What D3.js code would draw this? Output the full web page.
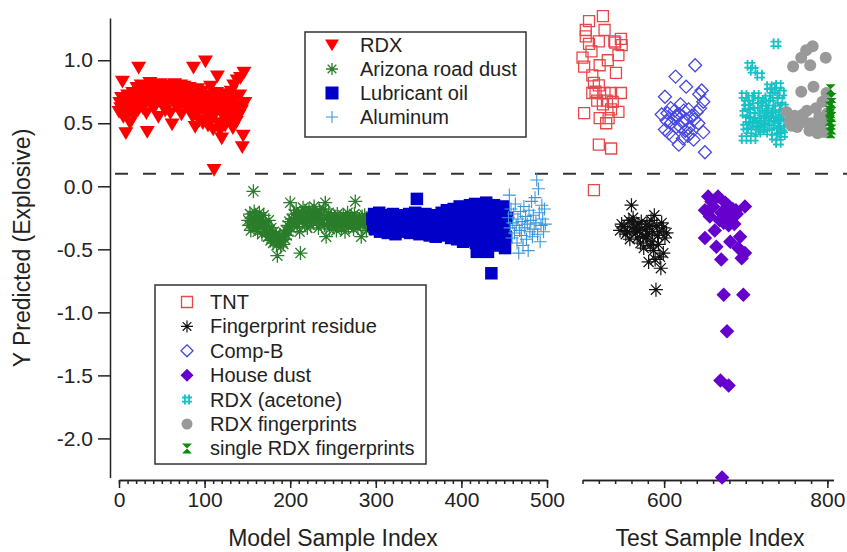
<!DOCTYPE html>
<meta charset="utf-8">
<script src="https://d3js.org/d3.v7.min.js"></script>
<style>
  body { margin: 0; background: #fff; }
  text { font-family: Arial, "Liberation Sans", sans-serif; fill: #222; }
</style>
<div id="chart"></div>
<script>
// ---- model samples: sequential index starting at *Start, predicted Y values ----
var rdxStart = 0;
var rdxY = [
  0.59, 0.66, 0.62, 0.70, 0.83, 0.55, 0.68, 0.64, 0.42, 0.60,
  0.72, 0.58, 0.65, 0.50, 0.69, 0.62, 0.74, 0.56, 0.67, 0.71,
  0.63, 0.78, 0.60, 0.94, 0.75, 0.66, 0.80, 0.70, 0.62, 0.77,
  0.68, 0.73, 0.58, 0.43, 0.79, 0.71, 0.82, 0.65, 0.76, 0.69,
  0.74, 0.62, 0.80, 0.71, 0.67, 0.78, 0.55, 0.73, 0.81, 0.68,
  0.76, 0.64, 0.72, 0.79, 0.60, 0.70, 0.77, 0.66, 0.74, 0.80,
  0.58, 0.71, 0.49, 0.75, 0.68, 0.81, 0.64, 0.72, 0.78, 0.62,
  0.74, 0.69, 0.80, 0.57, 0.73, 0.66, 0.79, 0.70, 0.63, 0.76,
  0.71, 0.65, 0.78, 0.60, 0.73, 0.68, 0.55, 0.94, 0.64, 0.47,
  0.72, 0.58, 0.77, 0.66, 0.52, 0.70, 0.61, 0.75, 0.50, 0.68,
  0.63, 0.99, 0.57, 0.72, 0.48, 0.66, 0.60, 0.79, 0.53, 0.70,
  0.45, 0.13, 0.64, 0.58, 0.74, 0.87, 0.50, 0.68, 0.44, 0.62,
  0.38, 0.71, 0.55, 0.65, 0.48, 0.73, 0.60, 0.52, 0.67, 0.57,
  0.53, 0.75, 0.62, 0.46, 0.80, 0.58, 0.69, 0.51, 0.84, 0.63,
  0.56, 0.72, 0.86, 0.60, 0.31, 0.40, 0.90, 0.66
];

var dustStart = 151;
var dustY = [
  -0.27, -0.31, -0.22, -0.35, -0.25, -0.30, -0.04, -0.20, -0.33, -0.28,
  -0.24, -0.36, -0.29, -0.21, -0.32, -0.26, -0.38, -0.30, -0.23, -0.34,
  -0.29, -0.37, -0.31, -0.40, -0.27, -0.35, -0.43, -0.33, -0.39, -0.45,
  -0.36, -0.42, -0.38, -0.47, -0.55, -0.41, -0.44, -0.39, -0.48, -0.43,
  -0.40, -0.46, -0.37, -0.42, -0.35, -0.39, -0.31, -0.36, -0.28, -0.13,
  -0.33, -0.26, -0.30, -0.22, -0.29, -0.25, -0.19, -0.32, -0.27, -0.23,
  -0.36, -0.53, -0.21, -0.28, -0.17, -0.24, -0.30, -0.20, -0.26, -0.33,
  -0.22, -0.18, -0.27, -0.31, -0.24, -0.20, -0.29, -0.16, -0.25, -0.21,
  -0.28, -0.23, -0.33, -0.19, -0.26, -0.30, -0.22, -0.27, -0.18, -0.31,
  -0.13, -0.40, -0.25, -0.29, -0.21, -0.34, -0.26, -0.23, -0.30, -0.27,
  -0.32, -0.24, -0.28, -0.35, -0.22, -0.29, -0.26, -0.31, -0.25, -0.33,
  -0.27, -0.23, -0.30, -0.36, -0.25, -0.28, -0.21, -0.32, -0.26, -0.29,
  -0.24, -0.31, -0.27, -0.34, -0.22, -0.12, -0.29, -0.25, -0.33, -0.28,
  -0.26, -0.30, -0.40, -0.24, -0.31, -0.27, -0.23, -0.29, -0.35, -0.26,
  -0.30, -0.25, -0.28, -0.32, -0.27
];

var oilStart = 296;
var oilY = [
  -0.26, -0.31, -0.22, -0.34, -0.28, -0.24, -0.33, -0.29, -0.21, -0.36,
  -0.27, -0.31, -0.25, -0.35, -0.29, -0.23, -0.32, -0.27, -0.37, -0.26,
  -0.30, -0.24, -0.34, -0.28, -0.22, -0.33, -0.29, -0.38, -0.25, -0.31,
  -0.27, -0.35, -0.23, -0.30, -0.26, -0.36, -0.28, -0.24, -0.32, -0.29,
  -0.34, -0.25, -0.30, -0.22, -0.37, -0.27, -0.31, -0.24, -0.33, -0.28,
  -0.21, -0.35, -0.10, -0.29, -0.26, -0.38, -0.23, -0.31, -0.27, -0.34,
  -0.25, -0.30, -0.22, -0.36, -0.28, -0.33, -0.24, -0.39, -0.27, -0.31,
  -0.23, -0.35, -0.29, -0.26, -0.40, -0.24, -0.32, -0.28, -0.37, -0.25,
  -0.30, -0.21, -0.34, -0.27, -0.39, -0.24, -0.31, -0.19, -0.36, -0.28,
  -0.33, -0.22, -0.41, -0.26, -0.30, -0.18, -0.37, -0.29, -0.24, -0.42,
  -0.27, -0.33, -0.16, -0.39, -0.25, -0.31, -0.44, -0.22, -0.35, -0.28,
  -0.19, -0.40, -0.26, -0.34, -0.15, -0.43, -0.29, -0.23, -0.37, -0.31,
  -0.14, -0.45, -0.52, -0.27, -0.36, -0.20, -0.41, -0.30, -0.17, -0.46,
  -0.33, -0.24, -0.39, -0.13, -0.29, -0.52, -0.44, -0.21, -0.35, -0.69,
  -0.26, -0.47, -0.15, -0.38, -0.30, -0.42, -0.19, -0.34, -0.45, -0.23,
  -0.37, -0.28, -0.43, -0.16, -0.33, -0.49, -0.40, -0.25
];

var alStart = 455;
var alY = [
  -0.25, -0.07, -0.33, -0.18, -0.41, -0.29, -0.22, -0.37, -0.14, -0.31,
  -0.45, -0.26, -0.53, -0.35, -0.20, -0.39, -0.28, -0.47, -0.16, -0.33,
  -0.24, -0.42, -0.30, -0.51, -0.19, -0.36, -0.27, -0.12, -0.40, -0.23,
  -0.34, -0.09, -0.29, 0.05, -0.38, -0.02, -0.21, -0.44, -0.31, -0.15,
  -0.26, -0.36, -0.18, -0.30
];

// ---- test samples: [index, predicted Y] ----
var tnt = [[525,1.35],[508,1.31],[504,1.24],[527,1.24],[504,1.19],[508,1.13],[520,1.15],[539,1.15],
  [547,1.17],[548,1.12],[540,1.14],[511,1.07],[544,1.04],[500,1.02],[531,1.00],[502,0.95],[521,0.96],
  [541,0.90],[512,0.88],[514,0.82],[520,0.80],[516,0.75],[512,0.74],[527,0.74],[535,0.74],[547,0.74],
  [518,0.68],[530,0.68],[537,0.67],[525,0.65],[535,0.61],[544,0.59],[502,0.58],[521,0.54],[532,0.54],
  [529,0.50],[520,0.33],[535,0.30],[514,-0.03]];

var fingerprint = [[560,-0.15],[588,-0.23],[551,-0.32],[561,-0.29],[570,-0.35],[555,-0.36],[582,-0.32],
  [599,-0.33],[592,-0.39],[578,-0.41],[567,-0.41],[546,-0.35],[601,-0.41],[575,-0.49],[587,-0.51],
  [599,-0.53],[581,-0.60],[589,-0.58],[596,-0.65],[590,-0.82],[548,-0.30],[553,-0.38],[557,-0.27],
  [563,-0.33],[565,-0.37],[568,-0.30],[572,-0.28],[574,-0.40],[577,-0.34],[580,-0.38],[584,-0.27],
  [585,-0.44],[591,-0.31],[594,-0.36],[597,-0.29],[603,-0.37],[558,-0.42],[571,-0.45],[583,-0.47],
  [593,-0.46],[586,-0.36],[579,-0.30],[566,-0.33],[595,-0.56],[562,-0.25]];

var compB = [[638,0.96],[614,0.87],[627,0.79],[646,0.76],[601,0.71],[643,0.73],[648,0.67],[620,0.65],
  [608,0.62],[630,0.61],[640,0.59],[597,0.57],[616,0.56],[627,0.53],[637,0.53],[608,0.50],[620,0.47],
  [601,0.45],[630,0.46],[648,0.43],[611,0.39],[623,0.38],[618,0.33],[632,0.42],[650,0.27],[604,0.58],
  [612,0.54],[624,0.60],[634,0.56],[642,0.50],[606,0.42],[615,0.47],[626,0.44],[636,0.37],[613,0.60],
  [622,0.51],[629,0.40],[644,0.62],[603,0.52],[619,0.57]];

var houseDust = [[654,-0.08],[666,-0.08],[650,-0.19],[660,-0.16],[678,-0.15],[699,-0.16],[688,-0.19],
  [670,-0.21],[656,-0.24],[681,-0.24],[689,-0.22],[673,-0.29],[679,-0.31],[662,-0.35],[650,-0.41],
  [681,-0.44],[693,-0.40],[664,-0.48],[691,-0.49],[699,-0.53],[695,-0.57],[670,-0.58],[673,-0.86],
  [697,-0.86],[677,-1.15],[669,-1.54],[679,-1.58],[671,-2.31],[658,-0.12],[684,-0.18],[668,-0.27],
  [675,-0.13],[686,-0.30]];

var rdxAcetone = [[737,1.13],[705,0.96],[709,0.92],[717,0.88],[729,0.79],[740,0.80],[733,0.76],[744,0.74],
  [698,0.72],[701,0.66],[706,0.70],[712,0.64],[718,0.68],[723,0.62],[727,0.70],[731,0.66],[736,0.72],
  [742,0.68],[746,0.63],[699,0.58],[703,0.53],[708,0.60],[714,0.56],[716,0.50],[720,0.58],[725,0.54],
  [730,0.60],[734,0.57],[739,0.62],[743,0.55],[747,0.58],[700,0.47],[704,0.44],[711,0.49],[715,0.43],
  [721,0.52],[726,0.47],[732,0.50],[738,0.48],[741,0.44],[745,0.50],[698,0.38],[709,0.38],[729,0.43],
  [745,0.41],[740,0.35],[735,0.39],[702,0.63],[713,0.72],[722,0.66],[728,0.56],[737,0.53],[744,0.46],
  [719,0.45],[707,0.52]];

var rdxPrints = [[782,1.11],[774,1.08],[768,1.02],[758,0.95],[779,0.96],[798,1.02],[768,0.75],[783,0.79],
  [799,0.74],[750,0.59],[754,0.51],[770,0.57],[786,0.62],[794,0.67],[788,0.42],[796,0.43],[780,0.50],
  [763,0.47],[795,0.52],[760,0.56],[775,0.60],[790,0.55],[766,0.53],[784,0.46],[800,0.58],[778,0.44],
  [756,0.48],[792,0.49],[772,0.51]];

var singlePrints = [[804,0.77],[805,0.70],[803,0.63],[804,0.58],[805,0.55],[803,0.52],[804,0.49],
  [805,0.45],[804,0.42],[803,0.60],[805,0.66]];

var yTicks = [-2.0, -1.5, -1.0, -0.5, 0.0, 0.5, 1.0];
var modelTicks = [0, 100, 200, 300, 400, 500];
var testTicks = [600, 800];
var threshold = 0.1;

// ---- layout ----
var W = 847, H = 552;
var svg = d3.select("#chart").append("svg").attr("width", W).attr("height", H);

var y = d3.scaleLinear().domain([-2.31, 1.335]).range([477.5, 18]);
var xModel = d3.scaleLinear().domain([0, 500]).range([119, 547]);
var xTest = d3.scaleLinear().domain([500, 807.5]).range([582.5, 833.5]);

// custom marker shapes for d3.symbol, size = width^2
function shape(fn) { return { draw: function(c, size) { fn(c, Math.sqrt(size) / 2); } }; }
var symTri = shape(function(c, s) { c.moveTo(-s, -s * 0.8); c.lineTo(s, -s * 0.8); c.lineTo(0, s * 0.9); c.closePath(); });
var symStar = shape(function(c, s) {
  var a = s * 0.72;
  c.moveTo(-s, 0); c.lineTo(s, 0); c.moveTo(0, -s); c.lineTo(0, s);
  c.moveTo(-a, -a); c.lineTo(a, a); c.moveTo(-a, a); c.lineTo(a, -a);
});
var symSquare = shape(function(c, s) { c.moveTo(-s, -s); c.lineTo(s, -s); c.lineTo(s, s); c.lineTo(-s, s); c.closePath(); });
var symPlus = shape(function(c, s) { c.moveTo(-s, 0); c.lineTo(s, 0); c.moveTo(0, -s); c.lineTo(0, s); });
var symDiamond = shape(function(c, s) { c.moveTo(0, -s); c.lineTo(s, 0); c.lineTo(0, s); c.lineTo(-s, 0); c.closePath(); });
var symHash = shape(function(c, s) {
  var a = s * 0.42;
  c.moveTo(-a, -s); c.lineTo(-a, s); c.moveTo(a, -s); c.lineTo(a, s);
  c.moveTo(-s, -a); c.lineTo(s, -a); c.moveTo(-s, a); c.lineTo(s, a);
});
var symCircle = shape(function(c, s) { c.moveTo(s, 0); c.arc(0, 0, s, 0, 2 * Math.PI); });
var symHourglass = shape(function(c, s) { c.moveTo(-s, -s); c.lineTo(s, -s); c.lineTo(-s, s); c.lineTo(s, s); c.closePath(); });

function seq(start, vals) { return vals.map(function(v, i) { return [start + i, v]; }); }

var modelSeries = [
  { name: "RDX", data: seq(rdxStart, rdxY), type: symTri, w: 15, color: "#ff0000", fill: true, lw: 14 },
  { name: "Arizona road dust", data: seq(dustStart, dustY), type: symStar, w: 14, color: "#2a7d2a", fill: false, sw: 1.3, lw: 12 },
  { name: "Lubricant oil", data: seq(oilStart, oilY), type: symSquare, w: 12.5, color: "#0000c8", fill: true, lw: 13 },
  { name: "Aluminum", data: seq(alStart, alY), type: symPlus, w: 13, color: "#3a96dc", fill: false, sw: 1.1, lw: 12 }
];
var testSeries = [
  { name: "TNT", data: tnt, type: symSquare, w: 11, color: "#e8474a", fill: false, sw: 1.3, lw: 11 },
  { name: "Fingerprint residue", data: fingerprint, type: symStar, w: 14, color: "#111", fill: false, sw: 1.2, lw: 12 },
  { name: "Comp-B", data: compB, type: symDiamond, w: 13, color: "#4848e0", fill: false, sw: 1.3, lw: 12 },
  { name: "House dust", data: houseDust, type: symDiamond, w: 14.5, color: "#6600cc", fill: true, lw: 13 },
  { name: "RDX (acetone)", data: rdxAcetone, type: symHash, w: 11, color: "#15c2c6", fill: false, sw: 1.8, lw: 10 },
  { name: "RDX fingerprints", data: rdxPrints, type: symCircle, w: 12, color: "#999999", fill: true, lw: 11 },
  { name: "single RDX fingerprints", data: singlePrints, type: symHourglass, w: 10, color: "#0a8c0a", fill: true, lw: 10 }
];

function styleMark(sel, s) {
  sel.attr("fill", s.fill ? s.color : "none")
    .attr("stroke", s.fill ? "none" : s.color)
    .attr("stroke-width", s.sw || 0);
}

function drawSeries(list, x) {
  list.forEach(function(s) {
    svg.append("g").selectAll("path")
      .data(s.data)
      .enter().append("path")
        .attr("transform", function(d) { return "translate(" + x(d[0]) + "," + y(d[1]) + ")"; })
        .attr("d", d3.symbol().type(s.type).size(s.w * s.w))
        .call(styleMark, s);
  });
}

// ---- axes ----
function styleAxis(g) {
  g.selectAll(".domain, line").attr("stroke", "#222").attr("stroke-width", 1.5);
  g.selectAll("text").attr("font-size", "21px").attr("fill", "#222");
}

svg.append("g")
  .attr("transform", "translate(110,0)")
  .call(d3.axisLeft(y).tickValues(yTicks).tickSize(12).tickSizeOuter(0).tickPadding(5)
    .tickFormat(function(d) { return d.toFixed(1); }))
  .call(styleAxis);

svg.append("g")
  .attr("transform", "translate(0,480)")
  .call(d3.axisBottom(xModel).tickValues(d3.range(0, 501, 10)).tickSize(4).tickSizeOuter(0).tickFormat(""))
  .call(styleAxis);
svg.append("g")
  .attr("transform", "translate(0,480)")
  .call(d3.axisBottom(xModel).tickValues(modelTicks).tickSize(8).tickSizeOuter(0).tickPadding(4))
  .call(styleAxis);

svg.append("g")
  .attr("transform", "translate(0,480)")
  .call(d3.axisBottom(xTest).tickValues(d3.range(500, 801, 20)).tickSize(4).tickSizeOuter(0).tickFormat(""))
  .call(styleAxis);
svg.append("g")
  .attr("transform", "translate(0,480)")
  .call(d3.axisBottom(xTest).tickValues(testTicks).tickSize(8).tickSizeOuter(0).tickPadding(4))
  .call(styleAxis);

// axis titles
svg.append("text")
  .attr("transform", "translate(30," + 248 + ") rotate(-90)")
  .attr("text-anchor", "middle")
  .attr("font-size", "23px")
  .text("Y Predicted (Explosive)");
svg.append("text")
  .attr("x", 333).attr("y", 546)
  .attr("text-anchor", "middle").attr("font-size", "23px")
  .text("Model Sample Index");
svg.append("text")
  .attr("x", 710).attr("y", 546)
  .attr("text-anchor", "middle").attr("font-size", "23px")
  .text("Test Sample Index");

// threshold line
svg.append("line")
  .attr("x1", 115).attr("x2", W)
  .attr("y1", y(threshold)).attr("y2", y(threshold))
  .attr("stroke", "#333").attr("stroke-width", 2)
  .attr("stroke-dasharray", "13,15");

// ---- markers ----
drawSeries(modelSeries, xModel);
drawSeries(testSeries, xTest);

// ---- legends ----
function legend(list, box, symX, textX, y0, step) {
  var g = svg.append("g");
  g.append("rect")
    .attr("x", box[0]).attr("y", box[1]).attr("width", box[2]).attr("height", box[3])
    .attr("fill", "#fff").attr("stroke", "#333").attr("stroke-width", 1.5);
  list.forEach(function(s, i) {
    var cy = y0 + i * step;
    g.append("path")
      .attr("transform", "translate(" + symX + "," + cy + ")")
      .attr("d", d3.symbol().type(s.type).size(s.lw * s.lw))
      .call(styleMark, s);
    g.append("text")
      .attr("x", textX).attr("y", cy)
      .attr("dominant-baseline", "central")
      .attr("font-size", "20px")
      .text(s.name);
  });
}
legend(modelSeries, [305, 32, 221, 105], 332, 360, 45, 24);
legend(testSeries, [155, 285, 271, 179], 187, 210, 302, 24.4);
</script>
